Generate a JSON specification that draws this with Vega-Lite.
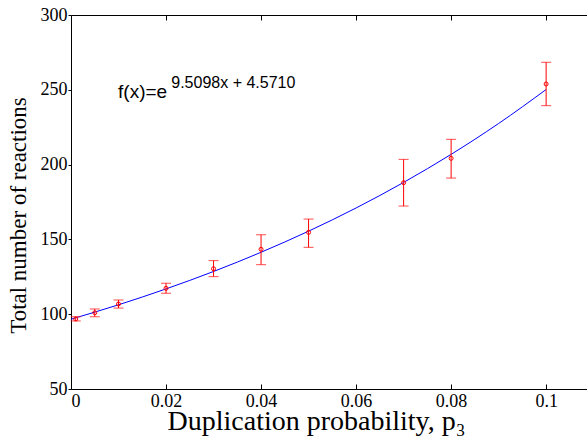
{
  "$schema": "https://vega.github.io/schema/vega-lite/v6.json",
  "autosize": {"type": "none"},
  "padding": {"left": 71, "top": 15, "right": 0, "bottom": 54},
  "width": 516,
  "height": 374,
  "background": "white",
  "config": {
    "view": {"stroke": null},
    "axis": {
      "grid": false,
      "domainColor": "black",
      "domainWidth": 1,
      "tickColor": "black",
      "labelColor": "black",
      "titleColor": "black",
      "labelFont": "Liberation Serif",
      "titleFont": "Liberation Serif",
      "labelFontSize": 18,
      "labelFontWeight": "normal",
      "titleFontWeight": "normal"
    }
  },
  "resolve": {"axis": {"x": "independent", "y": "independent"}, "scale": {"x": "shared", "y": "shared"}},
  "datasets": {
    "pts": [
      {"p": 0.001, "n": 96.8, "lo": 95.5, "hi": 98.3},
      {"p": 0.005, "n": 101.0, "lo": 98.3, "hi": 103.5},
      {"p": 0.01, "n": 106.8, "lo": 104.1, "hi": 109.5},
      {"p": 0.02, "n": 117.3, "lo": 114.0, "hi": 120.7},
      {"p": 0.03, "n": 130.4, "lo": 125.1, "hi": 135.8},
      {"p": 0.04, "n": 143.4, "lo": 133.1, "hi": 153.1},
      {"p": 0.05, "n": 154.7, "lo": 144.7, "hi": 163.6},
      {"p": 0.07, "n": 187.9, "lo": 172.3, "hi": 203.5},
      {"p": 0.08, "n": 204.2, "lo": 191.0, "hi": 216.9},
      {"p": 0.1, "n": 253.9, "lo": 239.4, "hi": 268.4}
    ],
    "fit": [
      {"p": 0.0, "f": 96.65},
      {"p": 0.01, "f": 106.29},
      {"p": 0.02, "f": 116.9},
      {"p": 0.03, "f": 128.56},
      {"p": 0.04, "f": 141.39},
      {"p": 0.05, "f": 155.5},
      {"p": 0.06, "f": 171.01},
      {"p": 0.07, "f": 188.08},
      {"p": 0.08, "f": 206.84},
      {"p": 0.09, "f": 227.48},
      {"p": 0.1, "f": 250.18}
    ],
    "one": [{"k": 1}]
  },
  "layer": [
    {
      "data": {"name": "fit"},
      "mark": {"type": "line", "color": "#0000ff", "strokeWidth": 1, "interpolate": "monotone", "clip": true},
      "encoding": {
        "x": {
          "field": "p", "type": "quantitative",
          "scale": {"domain": [0, 0.1086], "nice": false, "zero": false},
          "axis": {
            "orient": "bottom",
            "values": [0, 0.02, 0.04, 0.06, 0.08, 0.1],
            "format": "~g",
            "tickSize": -5,
            "labelPadding": 8,
            "labelBaseline": "top",
            "title": "Duplication probability, p₃",
            "titleFontSize": 28,
            "titleBaseline": "alphabetic",
            "titleAnchor": "start",
            "titleAlign": "center",
            "titleX": 245,
            "titleY": 40
          }
        },
        "y": {
          "field": "f", "type": "quantitative",
          "scale": {"domain": [50, 300], "nice": false, "zero": false},
          "axis": {
            "values": [50, 100, 150, 200, 250, 300],
            "format": "d",
            "tickSize": 3,
            "labelPadding": 1,
            "title": "Total number of reactions",
            "titleFontSize": 23,
            "titleAngle": 270,
            "titleAlign": "center",
            "titleBaseline": "alphabetic",
            "titleX": -46,
            "titleY": 200
          }
        }
      }
    },
    {
      "data": {"name": "pts"},
      "mark": {"type": "rule", "color": "#ff0000", "strokeWidth": 1},
      "encoding": {
        "x": {"field": "p", "type": "quantitative", "axis": {"orient": "top", "labels": false, "title": null, "values": [0, 0.02, 0.04, 0.06, 0.08, 0.1], "tickSize": -5}},
        "y": {"field": "lo", "type": "quantitative", "axis": null},
        "y2": {"field": "hi"}
      }
    },
    {
      "data": {"name": "pts"},
      "mark": {"type": "tick", "orient": "horizontal", "color": "#ff0000", "size": 10, "thickness": 1},
      "encoding": {
        "x": {"field": "p", "type": "quantitative", "axis": null},
        "y": {"field": "lo", "type": "quantitative", "axis": null}
      }
    },
    {
      "data": {"name": "pts"},
      "mark": {"type": "tick", "orient": "horizontal", "color": "#ff0000", "size": 10, "thickness": 1},
      "encoding": {
        "x": {"field": "p", "type": "quantitative", "axis": null},
        "y": {"field": "hi", "type": "quantitative", "axis": null}
      }
    },
    {
      "data": {"name": "pts"},
      "mark": {"type": "point", "shape": "circle", "filled": false, "color": "#ff0000", "size": 16, "strokeWidth": 1, "opacity": 1},
      "encoding": {
        "x": {"field": "p", "type": "quantitative", "axis": null},
        "y": {"field": "n", "type": "quantitative", "axis": null}
      }
    },
    {
      "data": {"name": "one"},
      "mark": {"type": "text", "text": "f(x)=e", "font": "Liberation Sans", "fontSize": 19, "align": "left", "baseline": "alphabetic", "color": "black"},
      "encoding": {
        "x": {"datum": 0.0099, "type": "quantitative", "axis": null},
        "y": {"datum": 244.5, "type": "quantitative", "axis": null}
      }
    },
    {
      "data": {"name": "one"},
      "mark": {"type": "text", "text": "9.5098x + 4.5710", "font": "Liberation Sans", "fontSize": 16, "align": "left", "baseline": "alphabetic", "color": "black"},
      "encoding": {
        "x": {"datum": 0.0211, "type": "quantitative", "axis": null},
        "y": {"datum": 251.2, "type": "quantitative", "axis": null}
      }
    }
  ]
}
